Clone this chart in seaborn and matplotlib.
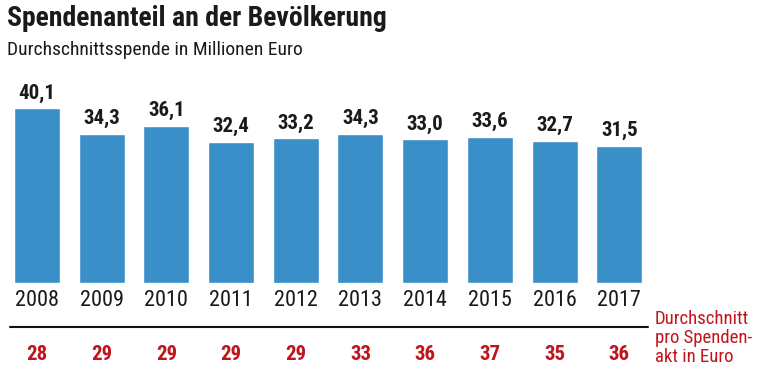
import pandas as pd
import numpy as np
import seaborn as sns
import matplotlib.pyplot as plt
import matplotlib.transforms as mtrans

years = ['2008', '2009', '2010', '2011', '2012', '2013', '2014', '2015', '2016', '2017']
spende_mio = [40.1, 34.3, 36.1, 32.4, 33.2, 34.3, 33.0, 33.6, 32.7, 31.5]
pro_akt = [28, 29, 29, 29, 29, 33, 36, 37, 35, 36]

blue = '#3a8fc9'
red = '#c1141c'
fam = ['Liberation Sans Narrow', 'Roboto Condensed', 'DejaVu Sans']

sns.set_style('white')
plt.rcParams['font.family'] = fam

df = pd.DataFrame({'year': years, 'value': spende_mio})

W, H = 768, 372
fig = plt.figure(figsize=(W / 100, H / 100), dpi=100)
# axes placed in pixel coordinates
left, right, bottom, top = 4.6, 651.6, 283, 87
ax = fig.add_axes([left / W, (H - bottom) / H, (right - left) / W, (bottom - top) / H])

sns.barplot(data=df, x='year', y='value', color=blue, saturation=1, width=0.71, ax=ax)
ax.set_xlim(-0.5, 9.5)
ax.set_ylim(0, 45)
sns.despine(ax=ax, left=True, bottom=True)
ax.set_yticks([])
ax.set_xlabel('')
ax.set_ylabel('')
ax.tick_params(axis='x', length=0, pad=5, labelsize=16, labelcolor='#1a1a1a')

for i, v in enumerate(spende_mio):
    ax.text(i, v + 1.3, f'{v:.1f}'.replace('.', ','), ha='center', va='bottom',
            fontsize=15, fontweight='bold', color='#1a1a1a')

# line and red row below the years
trans = mtrans.blended_transform_factory(ax.transData, fig.transFigure)
ax.plot([-0.42, 9.45], [1 - 327 / H] * 2, color='#111111', lw=1.5,
        transform=trans, clip_on=False)
for i, v in enumerate(pro_akt):
    ax.text(i, 1 - 354 / H, str(v), ha='center', va='center', fontsize=15,
            fontweight='bold', color=red, transform=trans)

fig.text(655 / W, 1 - 338 / H, 'Durchschnitt\npro Spenden-\nakt in Euro', ha='left',
         va='center', fontsize=13.5, color=red, linespacing=1.1)

fig.text(7 / W, 1 - 19 / H, 'Spendenanteil an der Bevölkerung', ha='left', va='center',
         fontsize=20, fontweight='bold', color='#1a1a1a')
fig.text(7 / W, 1 - 50 / H, 'Durchschnittsspende in Millionen Euro', ha='left',
         va='center', fontsize=14, color='#1a1a1a')

fig.savefig('out.png', dpi=100)
